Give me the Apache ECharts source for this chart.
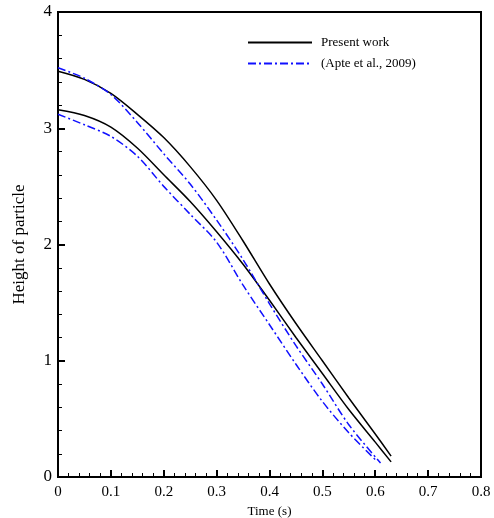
<!DOCTYPE html>
<html>
<head>
<meta charset="utf-8">
<script src="https://cdn.jsdelivr.net/npm/echarts@6/dist/echarts.min.js"></script>
<style>
  html, body { margin: 0; padding: 0; background: #fff; }
  #chart { width: 494px; height: 518px; }
</style>
</head>
<body>
<div id="chart"></div>
<script>
// time (s) and particle height
const presentUpperT = [0, 0.05, 0.10, 0.15, 0.20, 0.25, 0.30, 0.35, 0.40, 0.45, 0.50, 0.55, 0.60, 0.63];
const presentUpperH = [3.49, 3.42, 3.30, 3.12, 2.92, 2.67, 2.38, 2.03, 1.66, 1.32, 1.00, 0.68, 0.37, 0.18];

const presentLowerT = [0, 0.05, 0.10, 0.15, 0.20, 0.25, 0.30, 0.35, 0.40, 0.45, 0.50, 0.55, 0.60, 0.63];
const presentLowerH = [3.16, 3.11, 3.01, 2.83, 2.60, 2.37, 2.11, 1.83, 1.52, 1.20, 0.89, 0.58, 0.30, 0.13];

const apteUpperT = [0, 0.05, 0.10, 0.15, 0.20, 0.25, 0.30, 0.35, 0.40, 0.45, 0.50, 0.55, 0.61];
const apteUpperH = [3.52, 3.43, 3.29, 3.05, 2.78, 2.52, 2.21, 1.87, 1.49, 1.13, 0.80, 0.45, 0.12];

const apteLowerT = [0, 0.05, 0.10, 0.15, 0.20, 0.25, 0.30, 0.35, 0.40, 0.45, 0.50, 0.55, 0.60];
const apteLowerH = [3.12, 3.03, 2.93, 2.76, 2.50, 2.26, 2.02, 1.65, 1.31, 0.97, 0.65, 0.38, 0.15];

const xTicks = [0, 0.1, 0.2, 0.3, 0.4, 0.5, 0.6, 0.7, 0.8];
const yTicks = [0, 1, 2, 3, 4];

function pairs(t, h) {
  return t.map((v, i) => [v, h[i]]);
}

const font = 'Liberation Serif, Times New Roman, serif';
const blue = '#1010ff';
const blueDash = [8, 3, 2, 3];

const chart = echarts.init(document.getElementById('chart'), null, { renderer: 'canvas' });

const option = {
  backgroundColor: '#fff',
  animation: false,
  grid: {
    left: 58, right: 13, top: 12, bottom: 41,
    outerBoundsMode: 'none',
    show: true, borderColor: '#000', borderWidth: 2
  },
  legend: {
    orient: 'vertical',
    left: 247, top: 36, padding: 0,
    itemWidth: 64, itemHeight: 10, itemGap: 8,
    itemStyle: { opacity: 0 },
    textStyle: { fontFamily: font, fontSize: 13, color: '#000', padding: [0, 0, 0, 4] },
    data: ['Present work', '(Apte et al., 2009)']
  },
  xAxis: {
    type: 'value',
    min: xTicks[0], max: xTicks[xTicks.length - 1], interval: 0.1,
    name: 'Time (s)', nameLocation: 'middle', nameGap: 22,
    nameTextStyle: { fontFamily: font, fontSize: 13, color: '#000' },
    axisLine: { lineStyle: { color: '#000', width: 2 } },
    axisTick: { inside: true, length: 7, lineStyle: { color: '#000', width: 2 } },
    minorTick: { show: true, splitNumber: 5, length: 4, lineStyle: { color: '#000', width: 1 } },
    splitLine: { show: false },
    axisLabel: { fontFamily: font, fontSize: 15, color: '#000', margin: 8 }
  },
  yAxis: {
    type: 'value',
    min: yTicks[0], max: yTicks[yTicks.length - 1], interval: 1,
    name: 'Height of particle', nameLocation: 'middle', nameGap: 30,
    nameTextStyle: { fontFamily: font, fontSize: 17, color: '#000' },
    axisLine: { show: true, lineStyle: { color: '#000', width: 2 } },
    axisTick: { show: true, inside: true, length: 7, lineStyle: { color: '#000', width: 2 } },
    minorTick: { show: true, splitNumber: 5, length: 4, lineStyle: { color: '#000', width: 1 } },
    splitLine: { show: false },
    axisLabel: { fontFamily: font, fontSize: 17, color: '#000', margin: 6 }
  },
  series: [
    {
      name: 'Present work', type: 'line', showSymbol: false, symbol: 'none',
      data: pairs(presentUpperT, presentUpperH), smooth: 0.3,
      lineStyle: { color: '#000', width: 1.5 }, itemStyle: { color: '#000' }
    },
    {
      name: 'Present work', type: 'line', showSymbol: false, symbol: 'none',
      data: pairs(presentLowerT, presentLowerH), smooth: 0.3,
      lineStyle: { color: '#000', width: 1.5 }, itemStyle: { color: '#000' }
    },
    {
      name: '(Apte et al., 2009)', type: 'line', showSymbol: false, symbol: 'none',
      data: pairs(apteUpperT, apteUpperH), smooth: 0.3,
      lineStyle: { color: blue, width: 1.5, type: blueDash }, itemStyle: { color: blue }
    },
    {
      name: '(Apte et al., 2009)', type: 'line', showSymbol: false, symbol: 'none',
      data: pairs(apteLowerT, apteLowerH), smooth: 0.3,
      lineStyle: { color: blue, width: 1.5, type: blueDash }, itemStyle: { color: blue }
    }
  ]
};

chart.setOption(option);
</script>
</body>
</html>
